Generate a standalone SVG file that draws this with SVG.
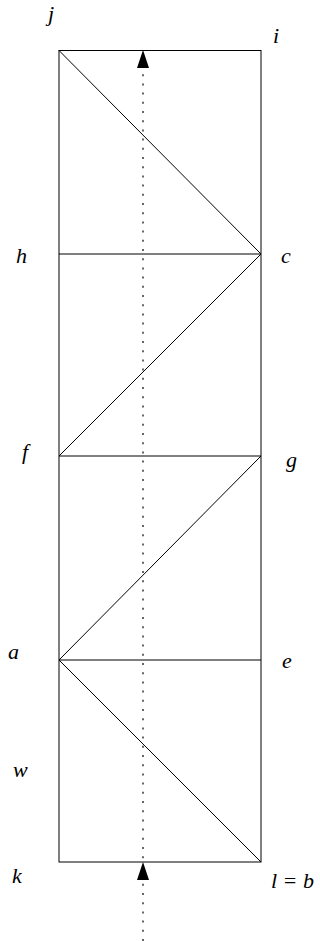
<svg xmlns="http://www.w3.org/2000/svg" width="320" height="941" viewBox="0 0 320 941">
<style>
.e{stroke:#000;stroke-width:1;fill:none}
.d{stroke:#000;stroke-width:1.2;stroke-dasharray:2 7.2;fill:none}
.t{font-family:"Liberation Serif","DejaVu Serif",serif;font-style:italic;font-size:22px;fill:#000}
</style>
<g id="edges">
<rect class="e" x="59" y="50.5" width="202" height="811.5"/>
<line class="e" x1="59" y1="254" x2="261" y2="254"/>
<line class="e" x1="59" y1="456" x2="261" y2="456"/>
<line class="e" x1="59" y1="660" x2="261" y2="660"/>
<line class="e" x1="59" y1="50.5" x2="261" y2="254"/>
<line class="e" x1="261" y1="254" x2="59" y2="456"/>
<line class="e" x1="261" y1="456" x2="59" y2="660"/>
<line class="e" x1="59" y1="660" x2="261" y2="862"/>
<line class="d" x1="143" y1="941" x2="143" y2="68"/>
<path d="M143,50 L149,68 L137,68 Z" fill="#000"/>
<path d="M143,862 L149,880 L137,880 Z" fill="#000"/>
</g>
<g id="n-j"><text class="t" x="48" y="21">j</text></g>
<g id="n-i"><text class="t" x="273" y="43">i</text></g>
<g id="n-h"><text class="t" x="16" y="263">h</text></g>
<g id="n-c"><text class="t" x="281" y="263">c</text></g>
<g id="n-f"><text class="t" x="22" y="459">f</text></g>
<g id="n-g"><text class="t" x="286" y="467">g</text></g>
<g id="n-a"><text class="t" x="8" y="659">a</text></g>
<g id="n-e"><text class="t" x="282" y="668">e</text></g>
<g id="n-w"><text class="t" x="13" y="777">w</text></g>
<g id="n-k"><text class="t" x="12" y="883">k</text></g>
<g id="n-lb"><text class="t" x="271" y="888">l = b</text></g>
</svg>
